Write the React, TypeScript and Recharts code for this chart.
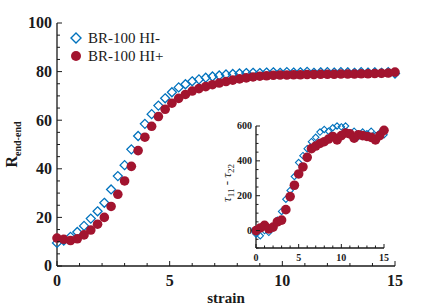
import { ComposedChart, Scatter, XAxis, YAxis, Legend, Label } from 'recharts';

// main panel: end-to-end distance vs strain
const strain = [
  0, 0.3, 0.6, 0.9, 1.2, 1.5, 1.8, 2.1, 2.4, 2.7, 3.0, 3.3, 3.6, 3.9, 4.2, 4.5, 4.8,
  5.1, 5.4, 5.7, 6.0, 6.3, 6.6, 6.9, 7.2, 7.5, 7.8, 8.1, 8.4, 8.7, 9.0, 9.3, 9.6, 9.9,
  10.2, 10.5, 10.8, 11.1, 11.4, 11.7, 12.0, 12.3, 12.6, 12.9, 13.2, 13.5, 13.8, 14.1,
  14.4, 14.7, 15.0,
];
const rendHIminus = [
  9.5, 10.5, 12, 14, 16.5, 19.5, 22.5, 26, 31.5, 37, 41.5, 48, 53.5, 58.5, 62.5, 66, 69,
  71.5, 73.5, 74.8, 76, 76.8, 77.5, 78, 78.4, 78.8, 79, 79.2, 79.4, 79.5, 79.4, 79.6,
  79.7, 79.5, 79.8, 79.6, 79.7, 79.9, 79.5, 79.7, 79.8, 79.6, 79.8, 79.7, 79.5, 79.8,
  79.6, 79.7, 79.5, 79.8, 79.2,
];
const rendHIplus = [
  11.5, 11, 10.5, 11.2, 12.8, 14.8, 17.2, 20, 24.5, 29.5, 35, 41, 47.5, 53, 57.5, 61.5,
  64.5, 67, 69, 70.6, 72, 73, 73.8, 74.6, 75.3, 75.9, 76.5, 77, 77.4, 77.8, 78.1, 78.3,
  78.5, 78.6, 78.6, 78.7, 78.7, 78.8, 78.8, 78.9, 78.9, 78.9, 79, 79, 79, 79.1, 79.1,
  79.2, 79.3, 79.4, 79.8,
];

// inset: normal stress difference vs strain
const strainInset = [
  0, 0.5, 1, 1.5, 2, 2.5, 3, 3.5, 4, 4.5, 5, 5.5, 6, 6.5, 7, 7.5, 8, 8.5, 9, 9.5, 10,
  10.5, 11, 11.5, 12, 12.5, 13, 13.5, 14, 14.5, 15,
];
const tauHIminus = [
  -20, -30, 0, -10, 20, 60, 110, 180, 230, 310, 390, 430, 470, 510, 535, 565, 580, 570,
  590, 600, 595, 600, 560, 570, 540, 565, 555, 570, 545, 560, 550,
];
const tauHIplus = [
  0, 15, 30, 10, 20, 50, 60, 120, 195, 260, 325, 365, 420, 470, 485, 500, 510, 525, 540,
  520, 545, 560, 555, 530, 550, 545, 540, 535, 520, 545, 575,
];

const seriesNames = ['BR-100 HI-', 'BR-100 HI+'];
const xTicksMain = [0, 1, 2, 3, 4, 5, 6, 7, 8, 9, 10, 11, 12, 13, 14, 15];
const xLabelsMain = [0, 5, 10, 15];
const yTicksMain = [0, 5, 10, 15, 20, 25, 30, 35, 40, 45, 50, 55, 60, 65, 70, 75, 80, 85, 90, 95, 100];
const yLabelsMain = [0, 20, 40, 60, 80, 100];
const yTicksInset = [-100, -50, 0, 50, 100, 150, 200, 250, 300, 350, 400, 450, 500, 550, 600];
const yLabelsInset = [0, 200, 400, 600];

const BLUE = '#0072BD';
const RED = '#A2142F';
const INK = '#1a1a1a';
const SERIF = '"Liberation Serif", "Times New Roman", serif';

const mainMinus = strain.map((x, i) => ({ x, y: rendHIminus[i] }));
const mainPlus = strain.map((x, i) => ({ x, y: rendHIplus[i] }));
const insetMinus = strainInset.map((x, i) => ({ x, y: tauHIminus[i] }));
const insetPlus = strainInset.map((x, i) => ({ x, y: tauHIplus[i] }));

type Side = 'bottom' | 'left' | 'top' | 'right';

function makeTick(side: Side, labels: number[], major: number, minor: number, fontSize: number, gap: number) {
  return (props: any) => {
    const { x, y, payload } = props;
    const v = payload.value;
    const isMajor = labels.includes(v);
    const len = isMajor ? major : minor;
    let line;
    if (side === 'bottom') line = <line x1={x} y1={y} x2={x} y2={y - len} />;
    else if (side === 'top') line = <line x1={x} y1={y} x2={x} y2={y + len} />;
    else if (side === 'left') line = <line x1={x} y1={y} x2={x + len} y2={y} />;
    else line = <line x1={x} y1={y} x2={x - len} y2={y} />;
    return (
      <g stroke={INK} strokeWidth={1}>
        {line}
        {isMajor && side === 'bottom' && (
          <text x={x} y={y + gap} textAnchor="middle" fill={INK} stroke="none"
            style={{ fontFamily: SERIF, fontWeight: 700, fontSize }}>
            {v}
          </text>
        )}
        {isMajor && side === 'left' && (
          <text x={x - gap} y={y + fontSize * 0.34} textAnchor="end" fill={INK} stroke="none"
            style={{ fontFamily: SERIF, fontWeight: 700, fontSize }}>
            {v}
          </text>
        )}
      </g>
    );
  };
}

const diamond = (h: number, w: number) => (props: any) => {
  const { cx, cy } = props;
  return (
    <path d={`M${cx},${cy - h} L${cx + h},${cy} L${cx},${cy + h} L${cx - h},${cy} Z`}
      fill="none" stroke={BLUE} strokeWidth={w} />
  );
};

const dot = (r: number) => (props: any) => {
  const { cx, cy } = props;
  return <circle cx={cx} cy={cy} r={r} fill={RED} />;
};

function LegendBox(props: any) {
  const items = [...(props.payload || [])].sort(
    (a: any, b: any) => seriesNames.indexOf(a.value) - seriesNames.indexOf(b.value),
  );
  return (
    <div style={{ fontFamily: SERIF, fontSize: 15, color: INK }}>
      {items.map((it: any) => (
        <div key={it.value} style={{ display: 'flex', alignItems: 'center', height: 18 }}>
          <svg width={16} height={14}>
            {it.value === seriesNames[0] ? (
              <path d="M8,2 L13,7 L8,12 L3,7 Z" fill="none" stroke={BLUE} strokeWidth={1.4} />
            ) : (
              <circle cx={8} cy={7} r={5} fill={RED} />
            )}
          </svg>
          <span style={{ marginLeft: 4, whiteSpace: 'nowrap' }}>{it.value}</span>
        </div>
      ))}
    </div>
  );
}

const axisLine = { stroke: INK, strokeWidth: 1.3 };

function MainChart() {
  return (
    <ComposedChart width={437} height={306} margin={{ top: 23, right: 42, bottom: 0, left: 0 }}>
      <XAxis xAxisId="b" type="number" dataKey="x" domain={[0, 15]} ticks={xTicksMain} interval={0}
        height={40} tickSize={0} tickMargin={0} tickLine={false} axisLine={axisLine}
        tick={makeTick('bottom', xLabelsMain, 5, 3, 16, 20)}>
        <Label content={(p: any) => {
          const vb = p.viewBox;
          return (
            <text x={vb.x + vb.width / 2} y={vb.y + 37} textAnchor="middle" fill={INK}
              style={{ fontFamily: SERIF, fontWeight: 700, fontSize: 15 }}>strain</text>
          );
        }} />
      </XAxis>
      <XAxis xAxisId="t" orientation="top" type="number" domain={[0, 15]} ticks={xTicksMain} interval={0}
        height={0} tickSize={0} tickMargin={0} tickLine={false} axisLine={axisLine}
        tick={makeTick('top', xLabelsMain, 5, 3, 16, 0)} />
      <YAxis yAxisId="l" type="number" dataKey="y" domain={[0, 100]} ticks={yTicksMain} interval={0}
        width={57} tickSize={0} tickMargin={0} tickLine={false} axisLine={axisLine}
        tick={makeTick('left', yLabelsMain, 5, 3, 16, 5)}>
        <Label content={(p: any) => {
          const vb = p.viewBox;
          const cy = vb.y + vb.height / 2;
          return (
            <text transform={`translate(${vb.x + 17},${cy}) rotate(-90)`} textAnchor="middle" fill={INK}
              style={{ fontFamily: SERIF, fontWeight: 700, fontSize: 16 }}>
              R<tspan dy={4} style={{ fontSize: 10 }}>end-end</tspan>
            </text>
          );
        }} />
      </YAxis>
      <YAxis yAxisId="r" orientation="right" type="number" domain={[0, 100]} ticks={yTicksMain} interval={0}
        width={0} tickSize={0} tickMargin={0} tickLine={false} axisLine={axisLine}
        tick={makeTick('right', yLabelsMain, 5, 3, 16, 0)} />
      <Legend layout="vertical" align="center" verticalAlign="middle" content={LegendBox}
        wrapperStyle={{ left: 68, top: 29, width: 'auto', height: 'auto' }} />
      <Scatter name={seriesNames[0]} xAxisId="b" yAxisId="l" data={mainMinus} fill={BLUE}
        shape={diamond(4.5, 1.3)} isAnimationActive={false} />
      <Scatter name={seriesNames[1]} xAxisId="b" yAxisId="l" data={mainPlus} fill={RED}
        shape={dot(4.8)} isAnimationActive={false} />
    </ComposedChart>
  );
}

function InsetChart() {
  return (
    <ComposedChart width={200} height={160} margin={{ top: 16, right: 16, bottom: 0, left: 0 }}>
      <XAxis xAxisId="b" type="number" dataKey="x" domain={[0, 15]} ticks={xTicksMain} interval={0}
        height={22} tickSize={0} tickMargin={0} tickLine={false} axisLine={axisLine}
        tick={makeTick('bottom', xLabelsMain, 4, 2.5, 10, 12.5)} />
      <XAxis xAxisId="t" orientation="top" type="number" domain={[0, 15]} ticks={xTicksMain} interval={0}
        height={0} tickSize={0} tickMargin={0} tickLine={false} axisLine={axisLine}
        tick={makeTick('top', xLabelsMain, 4, 2.5, 10, 0)} />
      <YAxis yAxisId="l" type="number" dataKey="y" domain={[-100, 600]} ticks={yTicksInset} interval={0}
        width={56} tickSize={0} tickMargin={0} tickLine={false} axisLine={axisLine}
        tick={makeTick('left', yLabelsInset, 4, 2.5, 10, 4)}>
        <Label content={(p: any) => {
          const vb = p.viewBox;
          const cy = vb.y + vb.height / 2 - 4;
          return (
            <text transform={`translate(${vb.x + 31},${cy}) rotate(-90)`} textAnchor="middle" fill={INK}
              style={{ fontFamily: SERIF, fontSize: 13 }}>
              <tspan fontStyle="italic">τ</tspan>
              <tspan dy={3} style={{ fontSize: 9 }}>11</tspan>
              <tspan dy={-3}> - </tspan>
              <tspan fontStyle="italic">τ</tspan>
              <tspan dy={3} style={{ fontSize: 9 }}>22</tspan>
            </text>
          );
        }} />
      </YAxis>
      <YAxis yAxisId="r" orientation="right" type="number" domain={[-100, 600]} ticks={yTicksInset} interval={0}
        width={0} tickSize={0} tickMargin={0} tickLine={false} axisLine={axisLine}
        tick={makeTick('right', yLabelsInset, 4, 2.5, 10, 0)} />
      <Scatter name={seriesNames[0]} xAxisId="b" yAxisId="l" data={insetMinus} fill={BLUE}
        shape={diamond(3.2, 1.1)} isAnimationActive={false} />
      <Scatter name={seriesNames[1]} xAxisId="b" yAxisId="l" data={insetPlus} fill={RED}
        shape={dot(4.8)} isAnimationActive={false} />
    </ComposedChart>
  );
}

export default function App() {
  return (
    <div style={{ position: 'absolute', left: 0, top: 0, width: 437, height: 306, background: '#fff' }}>
      <MainChart />
      <div style={{ position: 'absolute', left: 200, top: 110 }}>
        <InsetChart />
      </div>
    </div>
  );
}
